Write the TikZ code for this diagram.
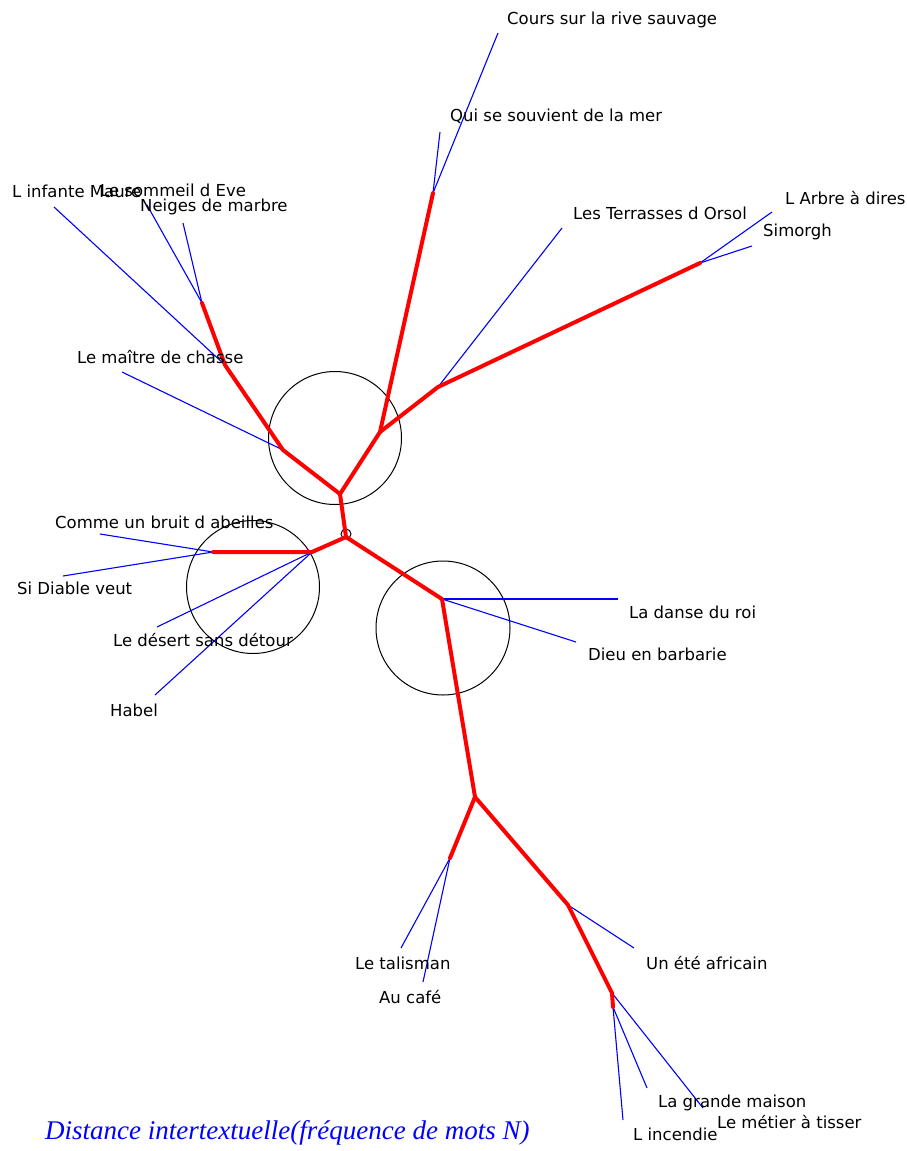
\documentclass[tikz,border=0pt]{standalone}
\usepackage{fontspec}
\setmainfont{DejaVu Sans}
\newfontfamily\capfont{Liberation Serif}
\begin{document}
\begin{tikzpicture}[x=1pt,y=-1pt,
  redl/.style={draw=red,line width=4pt,line cap=round,line join=round},
  bluel/.style={draw=blue,line width=1.1pt},
  ring/.style={draw=black,line width=1pt},
  lbl/.style={anchor=west,inner sep=0pt,font=\fontsize{16.5}{18}\selectfont,text=black}]
\useasboundingbox[fill=white] (0,0) rectangle (907,1151);

% inner tree points
\coordinate (C0) at (346,537);
\coordinate (A) at (340,494);
\coordinate (B) at (380,432);
\coordinate (T1) at (433,193);
\coordinate (R1) at (438,387);
\coordinate (R2) at (700,263);
\coordinate (L1) at (283,450);
\coordinate (L2) at (225,365);
\coordinate (L3) at (202,303);
\coordinate (F) at (312,552);
\coordinate (G) at (213,552);
\coordinate (H) at (442,599);
\coordinate (E) at (475,797);
\coordinate (E1) at (450,858);
\coordinate (E2) at (568,905);
\coordinate (E3) at (612,993);
\coordinate (E4) at (613,1007);

% leaf ends
\coordinate (cours) at (498,33);
\coordinate (qui) at (440,132);
\coordinate (terr) at (562,228);
\coordinate (arbre) at (772,212);
\coordinate (simo) at (752,246);
\coordinate (infa) at (54,207);
\coordinate (somm) at (147,205);
\coordinate (neig) at (183,223);
\coordinate (mait) at (122,372);
\coordinate (comm) at (100,534);
\coordinate (diab) at (63,576);
\coordinate (dese) at (157,627);
\coordinate (habe) at (155,695);
\coordinate (dans) at (618,599);
\coordinate (dieu) at (576,642);
\coordinate (tali) at (401,948);
\coordinate (cafe) at (423,982);
\coordinate (ete) at (634,948);
\coordinate (meti) at (703,1108);
\coordinate (gran) at (647,1088);
\coordinate (ince) at (623,1120);

% circles
\node[ring,circle,minimum size=133pt,inner sep=0pt] (c1) at (335,438) {};
\node[ring,circle,minimum size=133pt,inner sep=0pt] (c2) at (253,587) {};
\node[ring,circle,minimum size=134pt,inner sep=0pt] (c3) at (443,628) {};
\node[ring,circle,minimum size=10pt,inner sep=0pt] (c0) at (346,534) {};

% blue leaf edges
\draw[bluel] (T1) -- (cours);
\draw[bluel] (T1) -- (qui);
\draw[bluel] (R1) -- (terr);
\draw[bluel] (R2) -- (arbre);
\draw[bluel] (R2) -- (simo);
\draw[bluel] (L2) -- (infa);
\draw[bluel] (L3) -- (somm);
\draw[bluel] (L3) -- (neig);
\draw[bluel] (L1) -- (mait);
\draw[bluel] (G) -- (comm);
\draw[bluel] (G) -- (diab);
\draw[bluel] (F) -- (dese);
\draw[bluel] (F) -- (habe);
\draw[bluel] (H) -- (dans);
\draw[bluel] (H) -- (dieu);
\draw[bluel] (E1) -- (tali);
\draw[bluel] (E1) -- (cafe);
\draw[bluel] (E2) -- (ete);
\draw[bluel] (E3) -- (meti);
\draw[bluel] (E4) -- (gran);
\draw[bluel] (E4) -- (ince);

% red inner edges
\draw[redl] (C0) -- (A) -- (B) -- (T1);
\draw[redl] (B) -- (R1) -- (R2);
\draw[redl] (A) -- (L1) -- (L2) -- (L3);
\draw[redl] (C0) -- (F) -- (G);
\draw[redl] (C0) -- (H) -- (E) -- (E1);
\draw[redl] (E) -- (E2) -- (E3) -- (E4);

% labels
\node[lbl] (tcours) at (507,20) {Cours sur la rive sauvage};
\node[lbl] (tqui) at (450,116) {Qui se souvient de la mer};
\node[lbl] (tinfa) at (12,191) {L infante Maure};
\node[lbl] (tsomm) at (100,190) {Le sommeil d Eve};
\node[lbl] (tneig) at (140,207) {Neiges de marbre};
\node[lbl] (tterr) at (573,213) {Les Terrasses d Orsol};
\node[lbl] (tarbre) at (785,198) {L Arbre à dires};
\node[lbl] (tsimo) at (763,232) {Simorgh};
\node[lbl] (tmait) at (77,357) {Le maître de chasse};
\node[lbl] (tcomm) at (55,522) {Comme un bruit d abeilles};
\node[lbl] (tdiab) at (17,588) {Si Diable veut};
\node[lbl] (tdese) at (113,640) {Le désert sans détour};
\node[lbl] (thabe) at (110,710) {Habel};
\node[lbl] (tdans) at (629,612) {La danse du roi};
\node[lbl] (tdieu) at (588,654) {Dieu en barbarie};
\node[lbl] (ttali) at (355,963) {Le talisman};
\node[lbl] (tcafe) at (379,997) {Au café};
\node[lbl] (tete) at (646,963) {Un été africain};
\node[lbl] (tgran) at (658,1103) {La grande maison};
\node[lbl] (tmeti) at (717,1122) {Le métier à tisser};
\node[lbl] (tince) at (633,1134) {L incendie};

\node[anchor=west,inner sep=0pt,text=blue,font=\capfont\itshape\fontsize{27}{30}\selectfont] (cap) at (45,1133) {Distance intertextuelle(fréquence de mots N)};
\end{tikzpicture}
\end{document}
